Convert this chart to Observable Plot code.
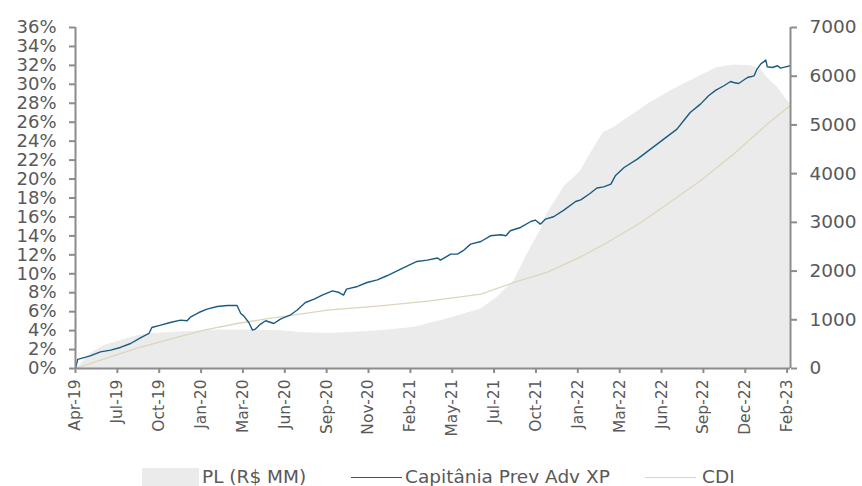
<!DOCTYPE html>
<html>
<head>
<meta charset="utf-8">
<script src="https://cdn.jsdelivr.net/npm/d3@7"></script>
<script src="https://cdn.jsdelivr.net/npm/@observablehq/plot@0.6"></script>
<style>
  html, body { margin: 0; padding: 0; background: #ffffff; }
  #wrap { position: relative; width: 862px; height: 486px; overflow: hidden; font-family: "DejaVu Sans", sans-serif; color: #595959; }
  #legend { position: absolute; left: 0; top: 0; width: 862px; height: 486px; pointer-events: none; }
  .lg-text { position: absolute; font-size: 18.5px; line-height: 17px; height: 17px; white-space: nowrap; color: #595959; }
  .lg-swatch { position: absolute; }
</style>
</head>
<body>
<div id="wrap"><div id="chart"></div><div id="legend"></div></div>
<script>
// ---- data (x = trading-day index since Apr-19, one tick every 57 trading days) ----
const xTickLabels = ["Apr-19","Jul-19","Oct-19","Jan-20","Mar-20","Jun-20","Sep-20","Nov-20","Feb-21","May-21","Jul-21","Oct-21","Jan-22","Mar-22","Jun-22","Sep-22","Dec-22","Feb-23"];
const daysPerTick = 57;
const lastDay = 973.6;

const leftTicks = [0,2,4,6,8,10,12,14,16,18,20,22,24,26,28,30,32,34,36];
const rightTicks = [0,1000,2000,3000,4000,5000,6000,7000];

const fundDay = [0,3,20,34,48,61,75,89,100,104,116,129,143,152,157,168,179,193,207,220,225,229,236,241,245,252,259,266,270,279,293,302,313,325,336,350,359,365,369,384,397,411,424,438,452,465,479,493,497,511,520,529,538,552,565,579,586,592,606,620,626,633,640,651,665,681,688,701,710,719,729,735,747,765,783,801,819,828,837,851,862,872,883,892,896,903,915,924,928,933,940,942,949,956,960,967,973];
const fundPct = [0,0.97,1.34,1.76,1.94,2.22,2.64,3.27,3.70,4.33,4.58,4.86,5.11,5.04,5.46,5.91,6.27,6.55,6.65,6.65,5.81,5.56,4.86,4.05,4.16,4.69,5.04,4.86,4.75,5.22,5.67,6.17,6.97,7.33,7.75,8.20,8.02,7.75,8.38,8.66,9.08,9.36,9.79,10.31,10.84,11.30,11.44,11.66,11.44,12.08,12.08,12.50,13.13,13.41,14.01,14.12,14.01,14.54,14.89,15.52,15.67,15.24,15.77,16.02,16.72,17.63,17.81,18.50,19.05,19.18,19.47,20.34,21.22,22.11,23.16,24.22,25.27,26.15,27.03,27.91,28.79,29.39,29.85,30.30,30.19,30.09,30.72,30.90,31.61,32.14,32.56,31.85,31.78,31.96,31.71,31.85,31.96];

const cdiDay = [0,38,84,129,175,220,266,306,343,415,483,552,597,642,688,724,770,806,851,896,942,973];
const cdiPct = [0,0.99,2.15,3.10,4.05,4.75,5.32,5.74,6.17,6.62,7.15,7.85,9.08,10.14,11.79,13.30,15.41,17.36,19.82,22.63,25.80,27.74];

const plDay = [0,4,20,38,61,84,106,152,197,242,279,306,347,415,460,506,552,574,597,620,633,642,656,665,679,688,701,719,733,760,783,815,851,874,896,919,933,942,956,973];
const plValue = [0,40,302,466,569,671,718,760,788,788,774,739,718,774,842,1014,1219,1458,1800,2484,2827,3176,3500,3730,3921,4058,4401,4845,4947,5222,5460,5736,6009,6179,6228,6214,6146,5974,5768,5428];

const seriesNames = ["PL (R$ MM)", "Capitânia Prev Adv XP", "CDI"];
const seriesColors = ["#ebebeb", "#1a5b82", "#ddd5bb"];

// ---- build rows ----
const fundRows = fundDay.map((d, i) => ({day: d, v: fundPct[i]}));
const cdiRows = cdiDay.map((d, i) => ({day: d, v: cdiPct[i]}));
const plRows = plDay.map((d, i) => ({day: d, pl: plValue[i]}));
const xTickDays = xTickLabels.map((_, i) => i * daysPerTick);
const plToPct = v => v * 36 / 7000;
const axisGray = "#8c8c8c";
const textGray = "#595959";

const chart = Plot.plot({
  width: 862,
  height: 452,
  marginLeft: 75,
  marginRight: 72,
  marginTop: 27,
  marginBottom: 84,
  x: {type: "linear", domain: [0, lastDay], axis: null},
  y: {type: "linear", domain: [0, 36], axis: null},
  style: {fontFamily: "DejaVu Sans", background: "#ffffff", color: textGray, overflow: "visible"},
  marks: [
    Plot.areaY(plRows, {x: "day", y: d => plToPct(d.pl), fill: seriesColors[0]}),
    Plot.lineY(cdiRows, {x: "day", y: "v", stroke: seriesColors[2], strokeWidth: 1.3}),
    Plot.lineY(fundRows, {x: "day", y: "v", stroke: seriesColors[1], strokeWidth: 1.4}),
    Plot.ruleX([0, lastDay], {y1: 0, y2: 36, stroke: axisGray, strokeWidth: 2}),
    Plot.ruleY([0], {x1: 0, x2: lastDay, stroke: axisGray, strokeWidth: 2}),
    Plot.axisY(leftTicks, {anchor: "left", label: null, tickSize: 6, tickPadding: 13, tickFormat: d => d + "%", fontSize: 18, stroke: axisGray, strokeWidth: 2, fill: textGray}),
    Plot.axisY(rightTicks.map(plToPct), {anchor: "right", label: null, tickSize: 6, tickPadding: 13, tickFormat: d => String(Math.round(d * 7000 / 36)), fontSize: 18.5, stroke: axisGray, strokeWidth: 2, fill: textGray}),
    Plot.axisX(xTickDays, {anchor: "bottom", label: null, tickSize: 5, tickPadding: 6, tickRotate: -90, tickFormat: d => xTickLabels[Math.round(d / daysPerTick)], fontSize: 15.5, stroke: axisGray, strokeWidth: 2, fill: textGray})
  ]
});
document.getElementById("chart").appendChild(chart);

// ---- legend (HTML, below the svg) ----
const legend = document.getElementById("legend");
const legendItems = [
  {swatch: {left: 142, top: 468, width: 57, height: 18}, textLeft: 202},
  {swatch: {left: 351, top: 476.5, width: 51, height: 1.5}, textLeft: 405},
  {swatch: {left: 645, top: 476.5, width: 51, height: 1.5}, textLeft: 702}
];
legendItems.forEach((it, i) => {
  const sw = document.createElement("div");
  sw.className = "lg-swatch";
  Object.assign(sw.style, {left: it.swatch.left + "px", top: it.swatch.top + "px", width: it.swatch.width + "px", height: it.swatch.height + "px", background: seriesColors[i]});
  legend.appendChild(sw);
  const t = document.createElement("div");
  t.className = "lg-text";
  t.textContent = seriesNames[i];
  Object.assign(t.style, {left: it.textLeft + "px", top: "468px"});
  legend.appendChild(t);
});
</script>
</body>
</html>
